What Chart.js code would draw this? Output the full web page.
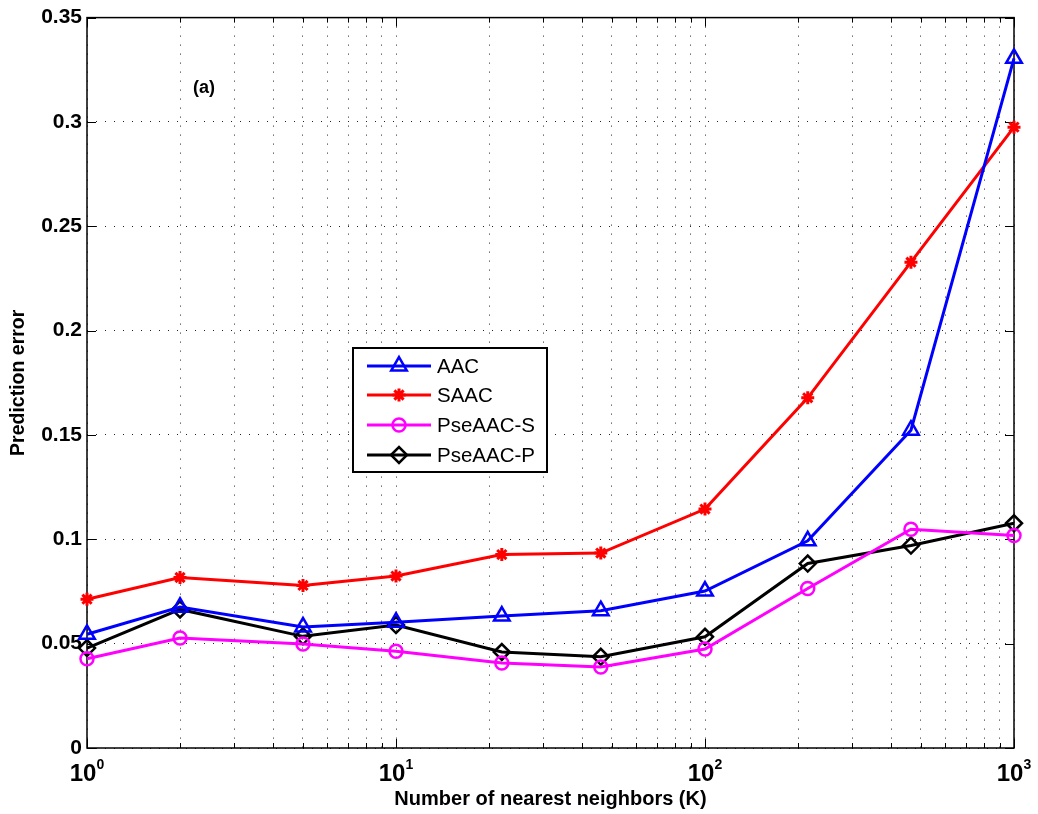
<!DOCTYPE html>
<html>
<head>
<meta charset="utf-8">
<script src="https://cdn.jsdelivr.net/npm/chart.js@4.4.1/dist/chart.umd.min.js"></script>
<style>
  html, body { margin: 0; padding: 0; background: #fff; }
</style>
</head>
<body>
<canvas id="myChart" width="1038" height="814"></canvas>
<script>
// number of nearest neighbours (K) on the log x axis
const neighbors = [1, 2, 5, 10, 22, 46, 100, 215, 464, 1000];

// prediction error per method
const aac      = [0.0545, 0.0675, 0.0580, 0.0603, 0.0632, 0.0658, 0.0752, 0.0993, 0.1523, 0.3305];
const saac     = [0.0713, 0.0817, 0.0779, 0.0824, 0.0927, 0.0934, 0.1145, 0.1678, 0.2328, 0.2975];
const pseaacS  = [0.0428, 0.0527, 0.0498, 0.0464, 0.0407, 0.0388, 0.0474, 0.0764, 0.1048, 0.1018];
const pseaacP  = [0.0479, 0.0664, 0.0535, 0.0589, 0.0460, 0.0437, 0.0533, 0.0884, 0.0970, 0.1077];

const seriesNames = ['AAC', 'SAAC', 'PseAAC-S', 'PseAAC-P'];
const decadeExponents = [0, 1, 2, 3];
const yTickValues = [0, 0.05, 0.1, 0.15, 0.2, 0.25, 0.3, 0.35];

const FONT = '"Liberation Sans", Arial, Helvetica, sans-serif';

// log grid: 1..9, 10..90, 100..900, 1000
const xGridTicks = [];
decadeExponents.forEach(e => {
  const base = Math.pow(10, e);
  if (e === 3) { xGridTicks.push(base); return; }
  for (let m = 1; m < 10; m++) xGridTicks.push(m * base);
});

const toPoints = arr => neighbors.map((k, i) => ({ x: k, y: arr[i] }));

function makeSet(label, values, color, style, radius, markerWidth) {
  return {
    label: label,
    data: toPoints(values),
    borderColor: color,
    backgroundColor: color,
    borderWidth: 3,
    pointStyle: style,
    pointRadius: radius,
    pointHoverRadius: radius,
    pointBorderWidth: markerWidth,
    pointBorderColor: color,
    pointBackgroundColor: 'rgba(0,0,0,0)',
    tension: 0,
    clip: false
  };
}

const datasets = [
  makeSet(seriesNames[0], aac, '#0000ff', 'triangle', 9, 2.5),
  makeSet(seriesNames[1], saac, '#ff0000', 'star', 6.5, 3),
  makeSet(seriesNames[2], pseaacS, '#ff00ff', 'circle', 6.5, 2.5),
  makeSet(seriesNames[3], pseaacP, '#000000', 'rectRot', 8, 2.5)
];

// frame, inward ticks, superscript x labels, the (a) tag and the legend box
const matlabLook = {
  id: 'matlabLook',
  beforeDatasetsDraw(chart) {
    const { ctx, chartArea: a, scales } = chart;
    ctx.save();
    ctx.strokeStyle = '#000';
    ctx.lineWidth = 1;
    ctx.beginPath();
    scales.x.ticks.forEach(t => {
      const px = Math.round(scales.x.getPixelForValue(t.value)) + 0.5;
      const len = decadeExponents.some(e => Math.pow(10, e) === t.value) ? 9 : 5;
      ctx.moveTo(px, a.bottom); ctx.lineTo(px, a.bottom - len);
      ctx.moveTo(px, a.top); ctx.lineTo(px, a.top + len);
    });
    scales.y.ticks.forEach(t => {
      const py = Math.round(scales.y.getPixelForValue(t.value)) + 0.5;
      ctx.moveTo(a.left, py); ctx.lineTo(a.left + 9, py);
      ctx.moveTo(a.right, py); ctx.lineTo(a.right - 9, py);
    });
    ctx.stroke();
    ctx.lineWidth = 1.5;
    ctx.strokeRect(a.left, a.top, a.right - a.left, a.bottom - a.top);
    ctx.restore();
  },
  afterDraw(chart) {
    const { ctx, scales } = chart;
    ctx.save();
    ctx.fillStyle = '#000';
    ctx.textBaseline = 'alphabetic';
    ctx.textAlign = 'left';

    // 10^n labels
    decadeExponents.forEach(e => {
      const px = scales.x.getPixelForValue(Math.pow(10, e));
      ctx.font = 'bold 24px ' + FONT;
      const w1 = ctx.measureText('10').width;
      ctx.font = 'bold 14px ' + FONT;
      const w2 = ctx.measureText(String(e)).width;
      const x0 = px - (w1 + w2) / 2;
      ctx.font = 'bold 24px ' + FONT;
      ctx.fillText('10', x0, 781);
      ctx.font = 'bold 14px ' + FONT;
      ctx.fillText(String(e), x0 + w1, 769);
    });

    ctx.font = 'bold 18px ' + FONT;
    ctx.fillText('(a)', 193, 93);

    // legend
    const box = { x: 353, y: 348, w: 194, h: 124 };
    ctx.fillStyle = '#fff';
    ctx.fillRect(box.x, box.y, box.w, box.h);
    ctx.strokeStyle = '#000';
    ctx.lineWidth = 2;
    ctx.strokeRect(box.x, box.y, box.w, box.h);
    const rows = [366, 395, 425, 455];
    chart.data.datasets.forEach((ds, i) => {
      const y = rows[i];
      ctx.strokeStyle = ds.borderColor;
      ctx.lineWidth = 3;
      ctx.beginPath();
      ctx.moveTo(367, y); ctx.lineTo(431, y);
      ctx.stroke();
      ctx.lineWidth = ds.pointBorderWidth;
      ctx.fillStyle = 'rgba(0,0,0,0)';
      Chart.helpers.drawPoint(ctx, {
        pointStyle: ds.pointStyle, rotation: 0,
        radius: ds.pointRadius, borderWidth: ds.pointBorderWidth
      }, 399, y);
      ctx.fillStyle = '#000';
      ctx.font = '20.5px ' + FONT;
      ctx.textBaseline = 'middle';
      ctx.fillText(ds.label, 437, y + 1);
    });
    ctx.restore();
  }
};

const ctx = document.querySelector('#myChart');

new Chart(ctx, {
  type: 'line',
  data: { datasets: datasets },
  options: {
    responsive: false,
    animation: false,
    events: [],
    layout: { padding: { top: 17, right: 24, left: 0, bottom: 0 } },
    plugins: {
      legend: { display: false },
      tooltip: { enabled: false }
    },
    scales: {
      x: {
        type: 'logarithmic',
        min: 1,
        max: 1000,
        afterBuildTicks: scale => { scale.ticks = xGridTicks.map(v => ({ value: v })); },
        afterFit: scale => { scale.height = 66; },
        grid: { color: '#222', lineWidth: 1, drawTicks: false },
        border: { display: false, dash: [1, 8] },
        ticks: { display: false },
        title: {
          display: true,
          text: 'Number of nearest neighbors (K)',
          color: '#000',
          font: { family: FONT, size: 20, weight: 'bold' },
          padding: { top: 0, bottom: 3 }
        }
      },
      y: {
        min: 0,
        max: 0.35,
        afterBuildTicks: scale => { scale.ticks = yTickValues.map(v => ({ value: v })); },
        afterFit: scale => { scale.width = 87; },
        grid: { color: '#222', lineWidth: 1, drawTicks: false },
        border: { display: false, dash: [1, 8] },
        ticks: {
          color: '#000',
          padding: 5,
          font: { family: FONT, size: 21, weight: 'bold' },
          callback: v => String(+v.toFixed(2))
        },
        title: {
          display: true,
          text: 'Prediction error',
          color: '#000',
          font: { family: FONT, size: 19.5, weight: 'bold' },
          padding: { top: 7, bottom: 0 }
        }
      }
    }
  },
  plugins: [matlabLook]
});
</script>
</body>
</html>
